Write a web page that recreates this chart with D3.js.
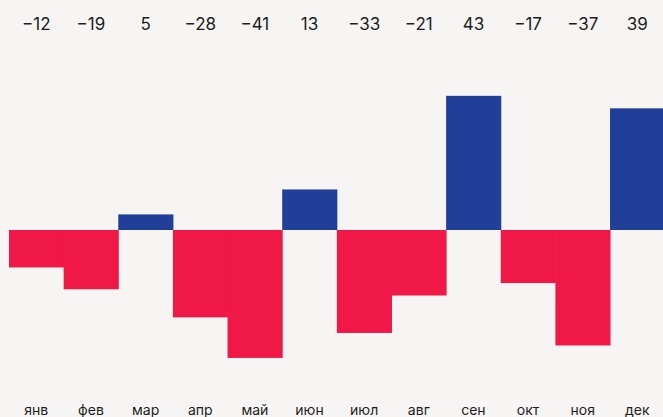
<!DOCTYPE html>
<html>
<head>
<meta charset="utf-8">
<script src="https://cdn.jsdelivr.net/npm/d3@7"></script>
<style>
  html, body { margin: 0; padding: 0; background: #f6f5f3; }
  svg { display: block; }
  text { font-family: "Inter", "Noto Sans", sans-serif; fill: #1d1d1d; }
</style>
</head>
<body>
<div class="chart"></div>
<script>
const MONTHS = ["янв", "фев", "мар", "апр", "май", "июн", "июл", "авг", "сен", "окт", "ноя", "дек"];
const VALUES = [-12, -19, 5, -28, -41, 13, -33, -21, 43, -17, -37, 39];

const width = 663, height = 417;

const svg = d3.select(".chart")
  .append("svg")
  .attr("width", width)
  .attr("height", height);

// bands run a bit past the right edge, like the original
const x = d3.scaleBand()
  .domain(MONTHS)
  .range([9, 9 + 12 * 54.64])
  .padding(0);

// about 3.12 px per unit, zero at y=230
const y = d3.scaleLinear()
  .domain([-41, 43])
  .range([230 + 41 * 3.12, 230 - 43 * 3.12]);

const data = MONTHS.map((m, i) => ({ month: m, value: VALUES[i] }));

svg.selectAll(".bar")
  .data(data)
  .enter()
  .append("rect")
  .attr("class", "bar")
  .attr("x", d => x(d.month))
  .attr("width", x.bandwidth() + 0.5)
  .attr("y", d => y(Math.max(0, d.value)))
  .attr("height", d => Math.abs(y(d.value) - y(0)))
  .attr("fill", d => d.value >= 0 ? "#213f99" : "#f01846");

// value labels on top
svg.selectAll(".val")
  .data(data)
  .enter()
  .append("text")
  .attr("class", "val")
  .attr("x", d => x(d.month) + x.bandwidth() / 2)
  .attr("y", 30)
  .attr("text-anchor", "middle")
  .attr("font-size", 17)
  .text(d => d.value < 0 ? "\u2212" + Math.abs(d.value) : d.value);

// month labels at the bottom
svg.selectAll(".month")
  .data(data)
  .enter()
  .append("text")
  .attr("class", "month")
  .attr("x", d => x(d.month) + x.bandwidth() / 2)
  .attr("y", 415)
  .attr("text-anchor", "middle")
  .attr("font-size", 14)
  .text(d => d.month);
</script>
</body>
</html>
